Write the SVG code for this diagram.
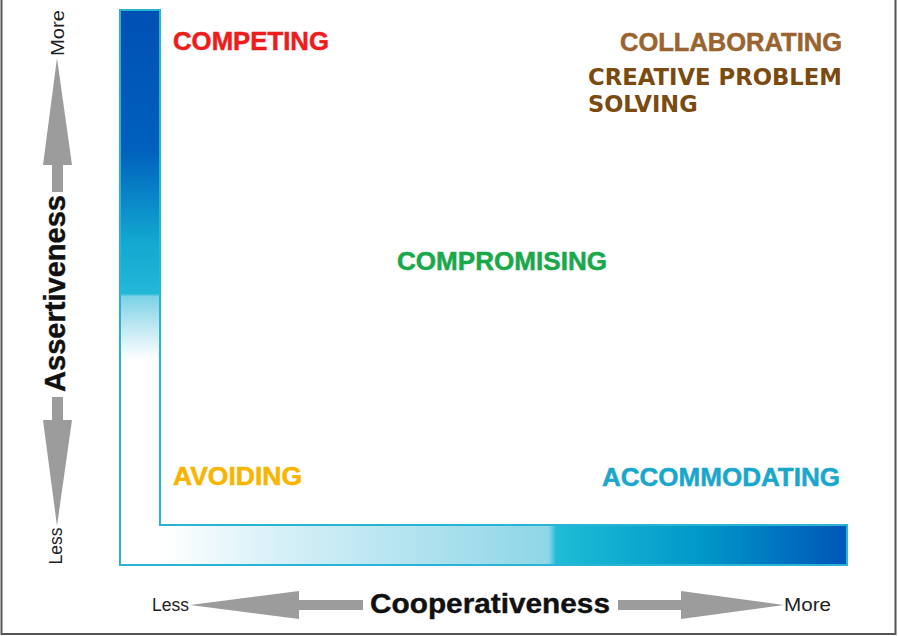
<svg xmlns="http://www.w3.org/2000/svg" width="898" height="636" viewBox="0 0 898 636">
<defs>
<linearGradient id="gv" x1="0" y1="10" x2="0" y2="525" gradientUnits="userSpaceOnUse">
<stop offset="0" stop-color="#0050b4"/>
<stop offset="0.27" stop-color="#0060bc"/>
<stop offset="0.37" stop-color="#0a88c8"/>
<stop offset="0.45" stop-color="#12a8d0"/>
<stop offset="0.551" stop-color="#22b8d8"/>
<stop offset="0.556" stop-color="#7cd2e6"/>
<stop offset="0.62" stop-color="#c4eaf3"/>
<stop offset="0.68" stop-color="#ffffff"/>
<stop offset="1" stop-color="#ffffff"/>
</linearGradient>
<linearGradient id="gh" x1="120" y1="0" x2="847" y2="0" gradientUnits="userSpaceOnUse">
<stop offset="0" stop-color="#ffffff"/>
<stop offset="0.06" stop-color="#ffffff"/>
<stop offset="0.22" stop-color="#d6f0f7"/>
<stop offset="0.59" stop-color="#8ed6e7"/>
<stop offset="0.60" stop-color="#1ebcd6"/>
<stop offset="0.80" stop-color="#0098c8"/>
<stop offset="1" stop-color="#0055b8"/>
</linearGradient>
<style>
.lbl{font-family:"Liberation Sans",Arial,sans-serif;font-weight:bold;font-size:25px;stroke-width:0.5px}
.lbl2{font-family:"DejaVu Sans",Verdana,sans-serif;font-weight:bold;font-size:22.5px;fill:#7b4a10}
.ax{font-family:"Liberation Sans",Arial,sans-serif;font-size:18px;fill:#222}
.axt{font-family:"Liberation Sans",Arial,sans-serif;font-weight:bold;fill:#111;stroke:#111;stroke-width:0.4px}
.arr{fill:#9c9c9c}
</style>
</defs>
<rect width="898" height="636" fill="#ffffff"/>
<path d="M1.5,0 V634 H895.5 V0" fill="none" stroke="#555" stroke-width="2"/>
<g id="chart-frame">
<rect x="120" y="10" width="40" height="515" fill="url(#gv)"/>
<rect x="120" y="525" width="727" height="40" fill="url(#gh)"/>
<path d="M120,10 H160 V525 H847 V565 H120 Z" fill="none" stroke="#2ab4d4" stroke-width="2"/>
</g>
<g id="assertiveness-axis">
<polygon class="arr" points="57,58 72,165 63,165 63,192 52,192 52,165 43,165"/>
<polygon class="arr" points="52,397 63,397 63,420 72,420 57,526 43,420 52,420"/>
<text class="ax" transform="translate(64,33) rotate(-90)" text-anchor="middle" textLength="46" lengthAdjust="spacingAndGlyphs">More</text>
<text class="axt" font-size="30" transform="translate(65,293.5) rotate(-90)" text-anchor="middle" textLength="197" lengthAdjust="spacingAndGlyphs">Assertiveness</text>
<text class="ax" transform="translate(62,546) rotate(-90)" text-anchor="middle" textLength="37" lengthAdjust="spacingAndGlyphs">Less</text>
</g>
<g id="cooperativeness-axis">
<polygon class="arr" points="190,605 299,591 299,600 363,600 363,610 299,610 299,619"/>
<polygon class="arr" points="618,600 681,600 681,591 784,605 681,619 681,610 618,610"/>
<text class="ax" x="152" y="611" textLength="37" lengthAdjust="spacingAndGlyphs">Less</text>
<text class="axt" font-size="28" x="370" y="613" textLength="240" lengthAdjust="spacingAndGlyphs">Cooperativeness</text>
<text class="ax" x="784" y="611" textLength="47" lengthAdjust="spacingAndGlyphs">More</text>
</g>
<g id="competing"><text class="lbl" x="173" y="50" fill="#ee1c1c" stroke="#ee1c1c" textLength="156" lengthAdjust="spacingAndGlyphs">COMPETING</text></g>
<g id="collaborating">
<text class="lbl" x="620" y="51" font-size="26" fill="#9a6430" stroke="#9a6430" textLength="222" lengthAdjust="spacingAndGlyphs">COLLABORATING</text>
<text class="lbl2" x="588" y="85" textLength="254" lengthAdjust="spacingAndGlyphs">CREATIVE PROBLEM</text>
<text class="lbl2" x="588" y="112">SOLVING</text>
</g>
<g id="compromising"><text class="lbl" x="397" y="270" fill="#19a84a" stroke="#19a84a" textLength="210" lengthAdjust="spacingAndGlyphs">COMPROMISING</text></g>
<g id="avoiding"><text class="lbl" x="173" y="485" fill="#f7b500" stroke="#f7b500" textLength="129" lengthAdjust="spacingAndGlyphs">AVOIDING</text></g>
<g id="accommodating"><text class="lbl" x="602" y="486" fill="#1aa7cc" stroke="#1aa7cc" textLength="238" lengthAdjust="spacingAndGlyphs">ACCOMMODATING</text></g>
</svg>
